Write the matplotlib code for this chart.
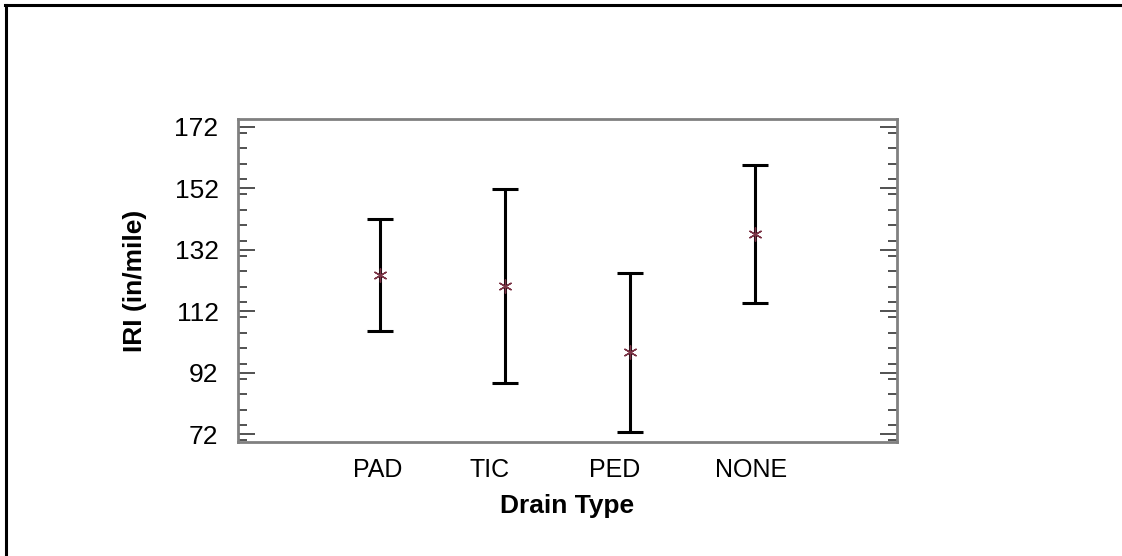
import matplotlib
matplotlib.use("Agg")
import matplotlib.pyplot as plt
from matplotlib.lines import Line2D
from matplotlib.ticker import MultipleLocator, FixedLocator

categories = ["PAD", "TIC", "PED", "NONE"]
means = [123.8, 120.2, 98.9, 137.1]
upper = [142.0, 151.9, 124.3, 159.5]
lower = [105.7, 88.6, 72.9, 114.8]
yticks = [72, 92, 112, 132, 152, 172]

plt.rcParams['font.family'] = ['Liberation Sans', 'DejaVu Sans']

W, H = 1122, 556
fig = plt.figure(figsize=(W / 100, H / 100), dpi=100)
ax = fig.add_axes([238 / W, 1 - 442.3 / H, (897 - 238) / W, (442.3 - 119) / H])

x = list(range(1, len(categories) + 1))
yerr = [[m - l for m, l in zip(means, lower)], [u - m for u, m in zip(upper, means)]]
ax.errorbar(x, means, yerr=yerr, fmt='none', ecolor='black', elinewidth=2.2,
            capsize=9.5, capthick=2.2, zorder=2)
ax.plot(x, means, linestyle='none', marker=(6, 2, 0), markersize=10,
        markeredgecolor='#7a3345', markeredgewidth=1.0, zorder=3)

# label placement offsets (layout only, in axis units)
label_shift = [-0.02, -0.12, -0.12, -0.03]

ax.set_xlim(-0.136, 5.136)
ax.set_ylim(69.4, 174.5)
ax.set_xticks([xi + s for xi, s in zip(x, label_shift)])
ax.set_xticklabels(categories, fontsize=18)
ax.yaxis.set_major_locator(FixedLocator(yticks))
ax.yaxis.set_minor_locator(MultipleLocator(5))
ax.set_yticklabels([str(v) for v in yticks], fontsize=19)

ax.tick_params(axis='x', length=0, pad=11)
ax.tick_params(axis='y', which='major', direction='in', length=12, width=1.2,
               color='#333333', left=True, right=True, pad=14)
ax.tick_params(axis='y', which='minor', direction='in', length=6.5, width=1.2,
               color='#333333', left=True, right=True)

for s in ax.spines.values():
    s.set_color('#808080')
    s.set_linewidth(2)

ax.set_xlabel("Drain Type", fontsize=19, fontweight='bold', labelpad=9)
ax.set_ylabel("IRI (in/mile)", fontsize=19, fontweight='bold', labelpad=20)

# outer frame (top and left visible)
fig.add_artist(Line2D([5 / W, 1.0], [1 - 5 / H, 1 - 5 / H], color='black',
                      linewidth=2.2, transform=fig.transFigure))
fig.add_artist(Line2D([6 / W, 6 / W], [0.0, 1 - 5 / H], color='black',
                      linewidth=2.2, transform=fig.transFigure))

fig.savefig("out.png", dpi=100)
